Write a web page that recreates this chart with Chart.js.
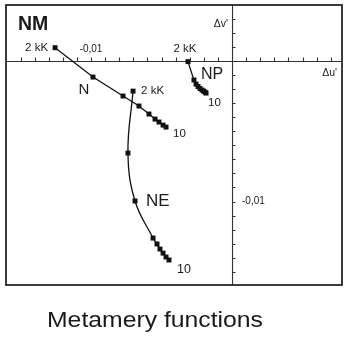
<!DOCTYPE html>
<html>
<head>
<meta charset="utf-8">
<script src="https://cdn.jsdelivr.net/npm/chart.js@4"></script>
<style>
  html, body { margin: 0; padding: 0; background: #fff; }
  canvas { display: block; }
</style>
</head>
<body>
<canvas id="c" width="350" height="340"></canvas>
<script>
// ---- data (Δu', Δv') ----
const stepLabels = ['2 kK', '3', '4', '5', '6', '7', '8', '9', '10'];
const nU  = [-0.01255, -0.00986, -0.00773, -0.00660, -0.00589, -0.00546, -0.00518, -0.00489, -0.00468];
const nV  = [ 0.00095, -0.00114, -0.00249, -0.00320, -0.00377, -0.00413, -0.00434, -0.00456, -0.00470];
const neU = [-0.00702, -0.00738, -0.00688, -0.00560, -0.00532, -0.00511, -0.00489, -0.00468, -0.00447];
const neV = [-0.00214, -0.00655, -0.00996, -0.01260, -0.01302, -0.01338, -0.01367, -0.01395, -0.01416];
const npU = [-0.00312, -0.00270, -0.00255, -0.00241, -0.00227, -0.00213, -0.00202, -0.00191, -0.00184];
const npV = [-0.00004, -0.00135, -0.00164, -0.00181, -0.00196, -0.00206, -0.00214, -0.00221, -0.00228];
const seriesNames = ['N', 'NE', 'NP'];

// ---- axes ----
const uTicks = [-0.015,-0.014,-0.013,-0.012,-0.011,-0.010,-0.009,-0.008,-0.007,-0.006,-0.005,-0.004,-0.003,-0.002,-0.001,0.001,0.002,0.003,0.004,0.005,0.006,0.007];
const vTicks = [0.003,0.002,0.001,-0.001,-0.002,-0.003,-0.004,-0.005,-0.006,-0.007,-0.008,-0.009,-0.010,-0.011,-0.012,-0.013,-0.014,-0.015];
const uTickLabelValues = [-0.010];
const uTickLabelTexts  = ['-0,01'];
const vTickLabelValues = [-0.010];
const vTickLabelTexts  = ['-0,01'];
const panelTitle = 'NM';
const chartCaption = 'Metamery functions';

const toPts = (us, vs) => us.map((u, i) => ({x: u, y: vs[i]}));
const FONT = '"Liberation Sans", Arial, Helvetica, sans-serif';
const INK = '#111';

const labelPlugin = {
  id: 'labels',
  beforeDatasetsDraw(chart) {
    const {ctx, chartArea: a, scales: {x, y}} = chart;
    const x0 = x.getPixelForValue(0), y0 = y.getPixelForValue(0);
    ctx.save();
    ctx.strokeStyle = '#333';
    ctx.lineWidth = 1.1;
    ctx.beginPath();
    ctx.moveTo(a.left, y0 + 0.5); ctx.lineTo(a.right, y0 + 0.5);
    ctx.moveTo(x0 + 0.5, a.top); ctx.lineTo(x0 + 0.5, a.bottom);
    uTicks.forEach(v => { const px = Math.round(x.getPixelForValue(v)) + 0.5; ctx.moveTo(px, y0); ctx.lineTo(px, y0 - 3.5); });
    vTicks.forEach(v => { const py = Math.round(y.getPixelForValue(v)) + 0.5; ctx.moveTo(x0, py); ctx.lineTo(x0 + 3.5, py); });
    ctx.stroke();
    ctx.restore();
  },
  afterDatasetsDraw(chart) {
    const {ctx, chartArea: a, scales: {x, y}} = chart;
    const x0 = x.getPixelForValue(0), y0 = y.getPixelForValue(0);
    const P = (ds, i) => {
      const el = chart.getDatasetMeta(ds).data[i];
      return {x: el.x, y: el.y};
    };
    const txt = (s, px, py, size, align, weight) => {
      ctx.font = (weight || 'normal') + ' ' + size + 'px ' + FONT;
      ctx.textAlign = align || 'left';
      ctx.textBaseline = 'middle';
      ctx.fillText(s, px, py);
    };
    ctx.save();
    ctx.fillStyle = '#1a1a1a';
    // frame
    ctx.strokeStyle = '#1a1a1a';
    ctx.lineWidth = 1.7;
    ctx.strokeRect(a.left, a.top, a.right - a.left, a.bottom - a.top);
    // panel title
    txt(panelTitle, 18, 25, 19.5, 'left', 'bold');
    // axis names
    txt("\u0394v'", x0 - 4, 24, 10.5, 'right');
    txt("\u0394u'", a.right - 5, y0 + 12, 10.5, 'right');
    // tick labels
    uTickLabelValues.forEach((v, i) => txt(uTickLabelTexts[i], x.getPixelForValue(v), y0 - 12, 10, 'center'));
    vTickLabelValues.forEach((v, i) => txt(vTickLabelTexts[i], x0 + 10, y.getPixelForValue(v), 10, 'left'));
    const last = stepLabels.length - 1;
    // N
    let p = P(0, 0); txt(stepLabels[0], p.x - 7, p.y, 11.5, 'right');
    p = P(0, last); txt(stepLabels[last], p.x + 7, p.y + 7, 11.5, 'left');
    p = P(0, 1); txt(seriesNames[0], p.x - 9, p.y + 13, 15, 'center');
    // NE
    p = P(1, 0); txt(stepLabels[0], p.x + 8, p.y, 11.5, 'left');
    p = P(1, last); txt(stepLabels[last], p.x + 8, p.y + 10, 12.5, 'left');
    p = P(1, 2); txt(seriesNames[1], p.x + 11, p.y, 17, 'left');
    // NP
    p = P(2, 0); txt(stepLabels[0], p.x - 3, p.y - 13, 11.5, 'center');
    p = P(2, last); txt(stepLabels[last], p.x + 2, p.y + 9.5, 11.5, 'left');
    p = P(2, 0); txt(seriesNames[2], p.x + 13, p.y + 12.5, 16, 'left');
    // caption
    ctx.font = 'normal 22px ' + FONT;
    const w = ctx.measureText(chartCaption).width;
    const sx = 216 / w;
    ctx.save();
    ctx.translate(155, 321);
    ctx.scale(Math.min(sx, 1.2), 1);
    ctx.textAlign = 'center';
    ctx.textBaseline = 'middle';
    ctx.fillText(chartCaption, 0, 0);
    ctx.restore();
    ctx.restore();
  }
};

const common = {
  showLine: true,
  borderColor: INK,
  backgroundColor: INK,
  borderWidth: 1.3,
  pointStyle: 'rect',
  pointRadius: 3.5,
  pointBorderWidth: 0,
};

new Chart(document.getElementById('c'), {
  type: 'scatter',
  data: {
    datasets: [
      Object.assign({label: seriesNames[0], data: toPts(nU, nV), tension: 0}, common),
      Object.assign({label: seriesNames[1], data: toPts(neU, neV), tension: 0.4}, common),
      Object.assign({label: seriesNames[2], data: toPts(npU, npV), tension: 0.2}, common),
    ]
  },
  options: {
    responsive: false,
    animation: false,
    layout: {padding: {left: 6, right: 8, top: 5, bottom: 55}},
    plugins: {legend: {display: false}, tooltip: {enabled: false}, title: {display: false}},
    scales: {
      x: {type: 'linear', min: -0.01603, max: 0.0078, display: false},
      y: {type: 'linear', min: -0.01594, max: 0.00399, display: false}
    }
  },
  plugins: [labelPlugin]
});
</script>
</body>
</html>
